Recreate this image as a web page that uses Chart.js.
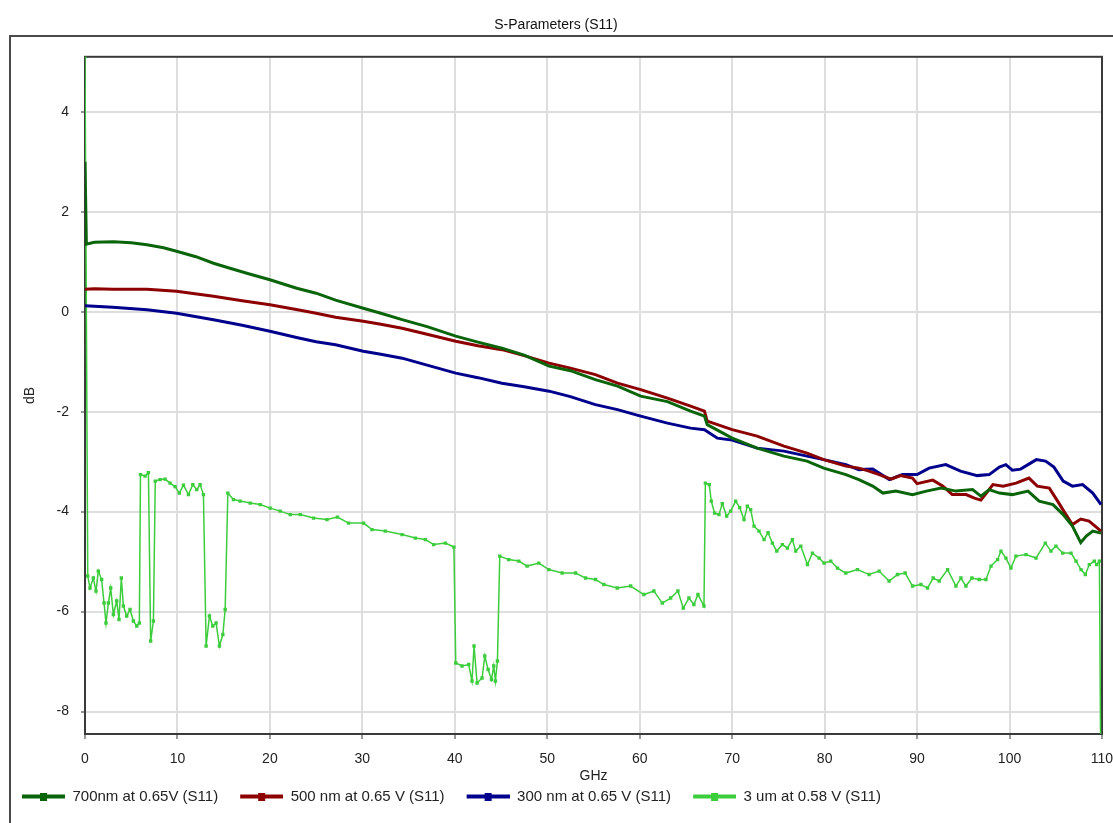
<!DOCTYPE html>
<html>
<head>
<meta charset="utf-8">
<title>S-Parameters (S11)</title>
<script src="https://cdn.jsdelivr.net/npm/chart.js@4.4.1/dist/chart.umd.min.js"></script>
<style>
  html, body { margin: 0; padding: 0; background: #fff; }
  canvas { display: block; }
</style>
</head>
<body>
<canvas id="sparamChart" width="1113" height="823"></canvas>
<script>
// tick labels
const xTicks = [0, 10, 20, 30, 40, 50, 60, 70, 80, 90, 100, 110];
const yTicks = [-8, -6, -4, -2, 0, 2, 4];

const seriesNames = ['700nm at 0.65V (S11)', '500 nm at 0.65 V (S11)', '300 nm at 0.65 V (S11)', '3 um at 0.58 V (S11)'];
const seriesColors = ['#0a650a', '#8c0000', '#00008c', '#3ccd3c'];

// 700nm (GHz / dB)
const ghz700 = [0, 0.15, 1, 3.07, 5, 6.7, 8.5, 9.9, 12, 13.9, 15.5, 17.5, 20, 22.9, 25, 27.1, 30.1, 32, 34.3, 37, 40.1, 42.5, 45.1, 47.5, 50.2, 52.5, 55.2, 57.6, 60.1, 63, 65.5, 67, 67.3, 70, 72.7, 75.6, 78.1, 79.9, 82.3, 83.7, 85.2, 86.3, 87.7, 89.5, 91, 92.6, 94.2, 96, 96.9, 97.8, 98.9, 100.3, 102, 103.2, 104.7, 105.8, 106.8, 107.7, 108.3, 109, 109.9];
const db700 = [3.0, 1.35, 1.39, 1.40, 1.38, 1.34, 1.28, 1.21, 1.10, 0.97, 0.88, 0.77, 0.64, 0.47, 0.37, 0.23, 0.07, -0.03, -0.16, -0.30, -0.49, -0.61, -0.73, -0.87, -1.09, -1.18, -1.36, -1.49, -1.69, -1.80, -1.99, -2.09, -2.26, -2.53, -2.73, -2.89, -2.99, -3.13, -3.26, -3.36, -3.49, -3.63, -3.59, -3.66, -3.59, -3.53, -3.59, -3.56, -3.69, -3.56, -3.63, -3.66, -3.59, -3.79, -3.86, -4.06, -4.29, -4.62, -4.49, -4.39, -4.43];

// 500 nm
const ghz500 = [0, 1, 3.07, 6.7, 9.9, 13.9, 17, 20, 23, 25, 27.1, 30.1, 32, 34.3, 37, 40.1, 42.5, 45.1, 47.5, 50.2, 52.5, 55.2, 57.6, 60.1, 63, 65.5, 67, 67.3, 70, 72.7, 75.6, 78.1, 79.9, 82.3, 83.7, 84.8, 85.9, 87.2, 88.2, 89.5, 90, 91.7, 92.8, 93.8, 95.3, 96.2, 96.9, 97.5, 98.2, 99.3, 100.7, 102.1, 103, 104.3, 105.2, 106.1, 106.8, 107.7, 108.6, 109.9];
const db500 = [0.45, 0.46, 0.45, 0.45, 0.41, 0.31, 0.22, 0.14, 0.04, -0.03, -0.11, -0.19, -0.25, -0.33, -0.45, -0.59, -0.68, -0.76, -0.88, -1.03, -1.13, -1.26, -1.43, -1.56, -1.73, -1.89, -1.99, -2.19, -2.36, -2.49, -2.69, -2.83, -2.96, -3.09, -3.13, -3.19, -3.26, -3.35, -3.28, -3.33, -3.44, -3.37, -3.49, -3.66, -3.66, -3.73, -3.77, -3.63, -3.46, -3.49, -3.43, -3.33, -3.49, -3.53, -3.79, -4.06, -4.26, -4.15, -4.19, -4.39];

// 300 nm
const ghz300 = [0, 1, 3, 6.7, 9.9, 13.9, 17, 20, 23, 25, 27.1, 30.1, 32, 34.3, 37, 40.1, 42.5, 45.1, 47.5, 50.2, 52.5, 55.2, 57.6, 60.1, 63, 65.5, 67, 68.4, 70, 72.7, 75.6, 78.1, 79.9, 82.3, 83.7, 85.2, 87, 88.4, 90, 91.3, 93.1, 94.7, 96.5, 97.8, 98.9, 99.6, 100.3, 101.2, 102, 102.9, 103.9, 104.8, 105.8, 106.8, 107.9, 109, 109.9];
const db300 = [0.12, 0.11, 0.09, 0.04, -0.03, -0.16, -0.27, -0.39, -0.52, -0.60, -0.66, -0.79, -0.85, -0.93, -1.07, -1.23, -1.32, -1.43, -1.50, -1.59, -1.70, -1.86, -1.96, -2.09, -2.23, -2.33, -2.36, -2.53, -2.57, -2.73, -2.79, -2.89, -2.96, -3.06, -3.16, -3.15, -3.36, -3.26, -3.26, -3.13, -3.06, -3.19, -3.28, -3.26, -3.11, -3.06, -3.17, -3.15, -3.06, -2.96, -2.99, -3.11, -3.39, -3.49, -3.46, -3.63, -3.86];

// 3 um
const ghz3um = [0, 0.3, 0.54, 0.9, 1.19, 1.44, 1.8, 2.06, 2.27, 2.53, 2.78, 3.07, 3.43, 3.68, 3.93, 4.15, 4.51, 4.87, 5.23, 5.6, 5.88, 6.0, 6.5, 6.86, 7.1, 7.4, 7.6, 8.12, 8.66, 9.2, 9.74, 10.2, 10.65, 11.19, 11.66, 12.09, 12.45, 12.81, 13.1, 13.46, 13.82, 14.18, 14.54, 14.91, 15.16, 15.45, 16.06, 16.78, 17.87, 18.95, 20.03, 21.11, 22.2, 23.28, 24.72, 26.17, 27.3, 28.5, 30.13, 31.04, 32.48, 34.29, 35.73, 36.81, 37.71, 38.98, 39.9, 40.1, 40.78, 41.5, 41.86, 42.08, 42.41, 42.95, 43.24, 43.6, 43.96, 44.21, 44.39, 44.61, 44.86, 45.83, 46.92, 47.82, 49.08, 50.17, 51.61, 53.06, 54.14, 55.22, 56.12, 57.57, 59.01, 60.45, 61.53, 62.44, 63.34, 64.13, 64.71, 65.32, 65.86, 66.3, 66.95, 67.1, 67.52, 67.74, 68.1, 68.57, 68.93, 69.4, 69.83, 70.38, 70.81, 71.28, 71.64, 72.0, 72.36, 72.9, 73.45, 73.88, 74.35, 74.82, 75.43, 75.97, 76.51, 76.87, 77.42, 78.14, 78.68, 79.4, 79.94, 80.66, 81.39, 82.29, 83.55, 84.81, 85.89, 86.97, 87.88, 88.71, 89.51, 90.41, 91.13, 91.74, 92.39, 93.3, 94.2, 94.74, 95.28, 95.93, 96.72, 97.45, 97.99, 98.71, 99.07, 99.61, 100.15, 100.69, 101.78, 102.86, 103.87, 104.48, 105.02, 105.75, 106.65, 107.19, 107.73, 108.2, 108.63, 109.17, 109.43, 109.72, 109.85];
const db3um = [5.1, -5.29, -5.53, -5.33, -5.59, -5.19, -5.36, -5.83, -6.23, -5.83, -5.53, -6.06, -5.79, -6.16, -5.33, -5.89, -6.09, -5.96, -6.19, -6.29, -6.23, -3.26, -3.29, -3.22, -6.59, -6.19, -3.39, -3.36, -3.35, -3.43, -3.5, -3.63, -3.47, -3.66, -3.46, -3.56, -3.46, -3.66, -6.69, -6.09, -6.29, -6.23, -6.69, -6.46, -5.96, -3.63, -3.76, -3.79, -3.83, -3.86, -3.93, -3.99, -4.06, -4.06, -4.13, -4.16, -4.11, -4.23, -4.23, -4.36, -4.39, -4.46, -4.53, -4.56, -4.66, -4.63, -4.71, -7.03, -7.09, -7.06, -7.39, -6.69, -7.43, -7.33, -6.89, -7.16, -7.36, -7.09, -7.39, -6.99, -4.89, -4.96, -4.99, -5.09, -5.03, -5.16, -5.23, -5.23, -5.33, -5.36, -5.46, -5.53, -5.49, -5.66, -5.59, -5.83, -5.73, -5.59, -5.93, -5.73, -5.86, -5.66, -5.89, -3.43, -3.46, -3.79, -4.03, -4.06, -3.84, -4.09, -3.99, -3.79, -3.92, -4.16, -3.89, -3.96, -4.29, -4.39, -4.56, -4.42, -4.63, -4.79, -4.66, -4.73, -4.56, -4.79, -4.69, -5.06, -4.83, -4.93, -5.03, -4.99, -5.13, -5.23, -5.16, -5.26, -5.19, -5.39, -5.26, -5.23, -5.49, -5.46, -5.53, -5.33, -5.39, -5.16, -5.49, -5.33, -5.49, -5.33, -5.36, -5.36, -5.09, -4.96, -4.79, -4.93, -5.13, -4.89, -4.86, -4.93, -4.63, -4.79, -4.69, -4.83, -4.83, -4.99, -5.16, -5.26, -5.06, -4.99, -5.06, -4.99, -8.7];

const toPoints = (xs, ys) => xs.map((x, i) => ({x: x, y: ys[i]}));

Chart.defaults.font.family = '"Liberation Sans", Arial, sans-serif';
Chart.defaults.font.size = 14;
Chart.defaults.color = '#222';

// legend symbol: line with a small square in the middle
const legendGap = 22;
function legendIcon(color) {
  const c = document.createElement('canvas');
  c.width = legendGap + 43;
  c.height = 8;
  const g = c.getContext('2d');
  g.fillStyle = color;
  g.fillRect(legendGap, 2, 43, 4);
  g.fillRect(legendGap + 18, 0, 7, 8);
  return c;
}
const legendIcons = seriesColors.map(legendIcon);

// panel frame + plot frame
const framePlugin = {
  id: 'frames',
  beforeDraw(chart) {
    const ctx = chart.ctx;
    ctx.save();
    ctx.fillStyle = '#fff';
    ctx.fillRect(0, 0, chart.width, chart.height);
    ctx.strokeStyle = '#4a4a4a';
    ctx.lineWidth = 2;
    ctx.strokeRect(10, 36, chart.width + 20, chart.height + 20);
    ctx.restore();
  },
  beforeDatasetsDraw(chart) {
    const a = chart.chartArea;
    const ctx = chart.ctx;
    ctx.save();
    ctx.strokeStyle = '#3a3a3a';
    ctx.lineWidth = 2;
    ctx.strokeRect(a.left, a.top, a.right - a.left, a.bottom - a.top);
    ctx.restore();
  }
};

const ctx = document.getElementById('sparamChart');
const chart = new Chart(ctx, {
  type: 'line',
  data: {
    datasets: [
      { label: seriesNames[0], data: toPoints(ghz700, db700), borderColor: seriesColors[0], backgroundColor: seriesColors[0], borderWidth: 3, pointRadius: 0 },
      { label: seriesNames[1], data: toPoints(ghz500, db500), borderColor: seriesColors[1], backgroundColor: seriesColors[1], borderWidth: 3, pointRadius: 0 },
      { label: seriesNames[2], data: toPoints(ghz300, db300), borderColor: seriesColors[2], backgroundColor: seriesColors[2], borderWidth: 3, pointRadius: 0 },
      { label: seriesNames[3], data: toPoints(ghz3um, db3um), borderColor: seriesColors[3], backgroundColor: seriesColors[3], borderWidth: 1.5, pointRadius: 2.4, pointStyle: 'rect', pointBorderWidth: 0 }
    ]
  },
  options: {
    responsive: false,
    animation: false,
    devicePixelRatio: 1,
    events: [],
    elements: { line: { tension: 0 } },
    layout: { padding: { left: 0, right: 1, top: 0, bottom: 9 } },
    scales: {
      x: {
        type: 'linear',
        min: 0,
        max: 110,
        afterBuildTicks: axis => { axis.ticks = xTicks.map(v => ({value: v})); },
        afterFit: axis => { axis.height = 55; axis.paddingRight = 11; },
        ticks: { padding: 12, maxRotation: 0, autoSkip: false, color: '#222' },
        grid: { color: '#dedede', lineWidth: 2, tickLength: 5, tickColor: '#333', tickWidth: 1 },
        border: { display: false },
        title: { display: true, text: 'GHz', color: '#222', padding: { top: 0, bottom: 4 } }
      },
      y: {
        type: 'linear',
        min: -8.45,
        max: 5.1,
        afterBuildTicks: axis => { axis.ticks = yTicks.map(v => ({value: v})); },
        afterFit: axis => { axis.width = 85; },
        ticks: { padding: 12, color: '#222' },
        grid: { color: '#dedede', lineWidth: 2, tickLength: 4, tickColor: '#333', tickWidth: 1 },
        border: { display: false },
        title: { display: true, text: 'dB', color: '#222', padding: { top: 22, bottom: 0 } }
      }
    },
    plugins: {
      title: {
        display: true,
        text: 'S-Parameters (S11)',
        color: '#111',
        font: { size: 14, weight: 'normal' },
        padding: { top: 17, bottom: 23 }
      },
      legend: {
        position: 'bottom',
        align: 'start',
        labels: {
          usePointStyle: true,
          pointStyleWidth: legendGap + 43,
          padding: 0,
          color: '#222',
          font: { size: 15 },
          generateLabels: chart => chart.data.datasets.map((ds, i) => ({
            text: ds.label,
            fillStyle: ds.borderColor,
            strokeStyle: ds.borderColor,
            lineWidth: 0,
            pointStyle: legendIcons[i],
            hidden: false,
            datasetIndex: i,
            fontColor: '#222'
          }))
        }
      },
      tooltip: { enabled: false }
    }
  },
  plugins: [framePlugin]
});
</script>
</body>
</html>
